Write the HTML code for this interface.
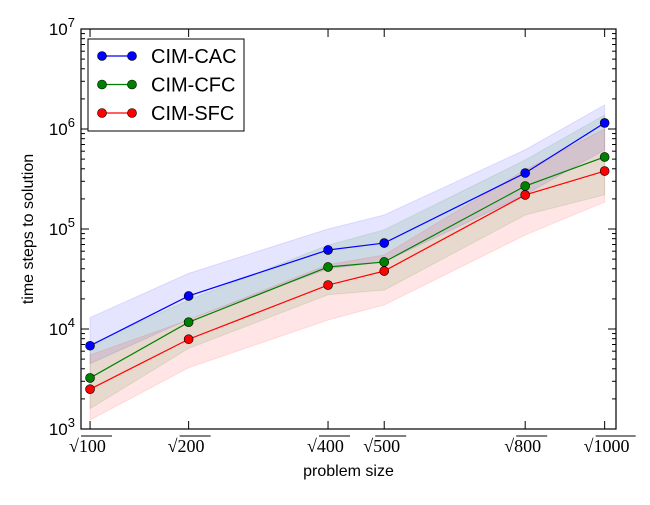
<!DOCTYPE html>
<html><head><meta charset="utf-8"><style>
body{margin:0;background:#fff;}
svg text{font-family:"Liberation Sans",sans-serif;}
svg text.serif{font-family:"Liberation Serif",serif;}
</style></head><body>
<svg id="chart" width="650" height="500" xmlns="http://www.w3.org/2000/svg"></svg>
<script>
const categories=[100,200,400,500,800,1000];
const cacValues=[6800,21400,61700,72400,363000,1150000];
const cfcValues=[3240,11700,41700,46800,269000,525000];
const sfcValues=[2500,7900,27500,38000,219000,380000];
const cacUpper=[13000,36000,100000,138000,620000,1740000];
const cacLower=[4500,12500,40000,47000,220000,620000];
const cfcUpper=[7000,19500,69000,98000,490000,1380000];
const cfcLower=[1600,6400,22000,24500,138000,220000];
const sfcUpper=[5500,12300,44000,55000,390000,1000000];
const sfcLower=[1230,4100,12300,17400,87000,186000];
const yTicks=[3,4,5,6,7];
const xTickLabels=["100","200","400","500","800","1000"];

const L=81,R=616,T=29,B=429;
const xmin=9.62,xmax=32.1;
function xs(v){return L+(Math.sqrt(v)-xmin)/(xmax-xmin)*(R-L);}
function ys(v){return B-(Math.log10(v)-3)/4*(B-T);}
const NS="http://www.w3.org/2000/svg";
const svg=document.getElementById('chart');
function mk(t,a,p){const e=document.createElementNS(NS,t);for(const k in a)e.setAttribute(k,a[k]);(p||svg).appendChild(e);return e;}

const series=[
 {name:'cac',label:'CIM-CAC',color:'#0000ff',fill:'#0000ff',vals:cacValues,up:cacUpper,lo:cacLower},
 {name:'cfc',label:'CIM-CFC',color:'#008000',fill:'#008000',vals:cfcValues,up:cfcUpper,lo:cfcLower},
 {name:'sfc',label:'CIM-SFC',color:'#ff0000',fill:'#ff0000',vals:sfcValues,up:sfcUpper,lo:sfcLower}];
series.forEach(s=>{
 let pts=categories.map((c,i)=>xs(c)+','+ys(s.up[i]));
 pts=pts.concat(categories.map((c,i)=>xs(c)+','+ys(s.lo[i])).reverse());
 const p=mk('polygon',{points:pts.join(' '),fill:s.fill,'fill-opacity':0.1,stroke:s.fill,'stroke-opacity':0.1});
 
 
});
series.forEach(s=>{
 const l=mk('polyline',{points:categories.map((c,i)=>xs(c)+','+ys(s.vals[i])).join(' '),fill:'none',stroke:s.color,'stroke-width':1.2});
 
 
 categories.forEach((c,i)=>{
  const m=mk('circle',{cx:xs(c),cy:ys(s.vals[i]),r:4.5,fill:s.color,stroke:'#000','stroke-width':0.6});
  
  
 });
});
const fr=mk('rect',{x:L,y:T,width:R-L,height:B-T,fill:'none',stroke:'#000','stroke-width':1.2});


yTicks.forEach(e=>{
 const y=ys(Math.pow(10,e));
 mk('line',{x1:L,x2:L+8,y1:y,y2:y,stroke:'#000'});
 mk('line',{x1:R,x2:R-8,y1:y,y2:y,stroke:'#000'});
 const t=mk('text',{x:L-6,y:y+6,'text-anchor':'end','font-size':17});
 
 
 t.innerHTML='10<tspan dy="-8" font-size="13">'+e+'</tspan>';
 if(e<7)for(let k=2;k<10;k++){const yy=ys(k*Math.pow(10,e));
  mk('line',{x1:L,x2:L+4,y1:yy,y2:yy,stroke:'#000'});mk('line',{x1:R,x2:R-4,y1:yy,y2:yy,stroke:'#000'});}
});
categories.forEach((c,i)=>{
 const x=xs(c);
 mk('line',{x1:x,x2:x,y1:B,y2:B-8,stroke:'#000'});
 mk('line',{x1:x,x2:x,y1:T,y2:T+8,stroke:'#000'});
 const g=mk('g',{});
 
 
 const lab=xTickLabels[i];
 const w=lab.length*9;
 const t=mk('text',{x:x-21,y:B+23,'font-size':18,'class':'serif'},g);
 t.textContent='\u221A'+lab;
 mk('line',{x1:x-21+12,x2:x-21+13+w+3,y1:B+7,y2:B+7,stroke:'#000','stroke-width':0.9},g);
});
const xt=mk('text',{x:(L+R)/2,y:476,'text-anchor':'middle','font-size':16});
xt.textContent='problem size';


const yt=mk('text',{x:33,y:229,'text-anchor':'middle','font-size':16,transform:'rotate(-90 33 229)'});
yt.textContent='time steps to solution';


const lg=mk('g',{});


mk('rect',{x:88,y:39,width:156,height:92,fill:'#fff',stroke:'#000','stroke-width':1},lg);
series.forEach((s,i)=>{
 const y=56+i*28.5;
 const e=mk('g',{},lg);
 
 
 mk('line',{x1:98,x2:136,y1:y,y2:y,stroke:s.color,'stroke-width':1.2},e);
 mk('circle',{cx:102,cy:y,r:4.5,fill:s.color,stroke:'#000','stroke-width':0.6},e);
 mk('circle',{cx:132,cy:y,r:4.5,fill:s.color,stroke:'#000','stroke-width':0.6},e);
 const t=mk('text',{x:151,y:y+7,'font-size':20},e);
 t.textContent=s.label;
});
</script>
</body></html>
